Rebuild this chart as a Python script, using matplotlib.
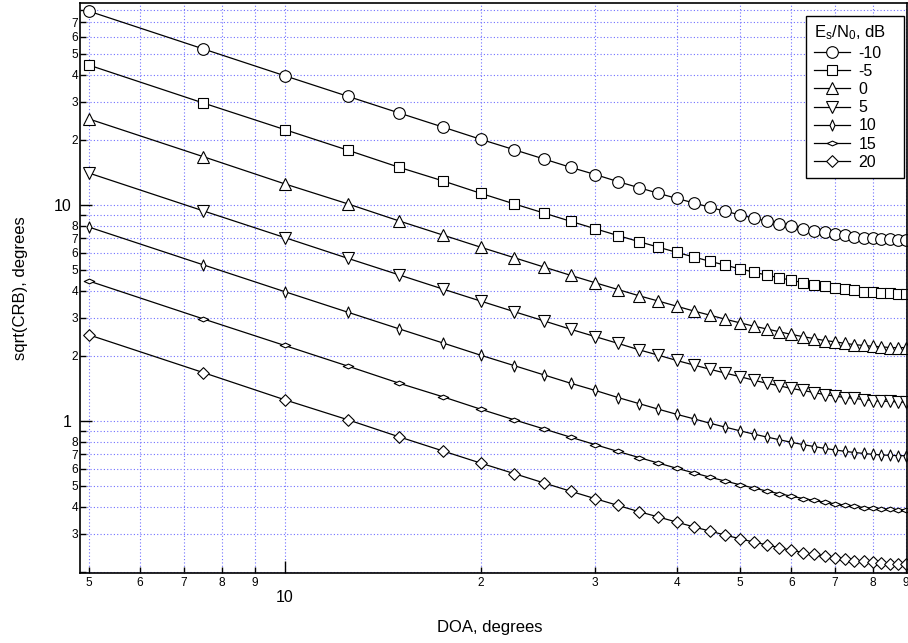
import matplotlib
matplotlib.use("Agg")
import matplotlib.pyplot as plt
from matplotlib.path import Path

plt.rcParams["font.family"] = ["Liberation Sans", "DejaVu Sans"]
plt.rcParams["mathtext.fontset"] = "custom"
plt.rcParams["mathtext.rm"] = "Liberation Sans"
plt.rcParams["mathtext.it"] = "Liberation Sans:italic"
plt.rcParams["mathtext.default"] = "regular"

# Direction of arrival, degrees
doa = [5, 7.5, 10, 12.5, 15, 17.5, 20, 22.5, 25, 27.5, 30, 32.5, 35, 37.5, 40,
       42.5, 45, 47.5, 50, 52.5, 55, 57.5, 60, 62.5, 65, 67.5, 70, 72.5, 75,
       77.5, 80, 82.5, 85, 87.5, 90]

# sqrt(CRB) in degrees, one curve per Es/N0
crb_m10 = [78.9, 52.7, 39.6, 31.8, 26.6, 22.9, 20.1, 18.0, 16.3, 14.9, 13.8,
           12.8, 12.0, 11.3, 10.7, 10.2, 9.73, 9.33, 8.98, 8.67, 8.40, 8.16,
           7.94, 7.75, 7.59, 7.44, 7.32, 7.21, 7.12, 7.05, 6.98, 6.94, 6.91,
           6.89, 6.88]
crb_m5 = [44.4, 29.6, 22.3, 17.9, 14.9, 12.9, 11.3, 10.1, 9.16, 8.38, 7.74,
          7.20, 6.75, 6.36, 6.02, 5.73, 5.47, 5.25, 5.05, 4.88, 4.72, 4.59,
          4.47, 4.36, 4.27, 4.19, 4.12, 4.06, 4.01, 3.96, 3.93, 3.90, 3.89,
          3.87, 3.87]
crb_0 = [25.0, 16.7, 12.5, 10.1, 8.41, 7.24, 6.36, 5.69, 5.15, 4.71, 4.35,
         4.05, 3.79, 3.58, 3.39, 3.22, 3.08, 2.95, 2.84, 2.74, 2.66, 2.58,
         2.51, 2.45, 2.40, 2.35, 2.32, 2.28, 2.25, 2.23, 2.21, 2.20, 2.18,
         2.18, 2.18]
crb_5 = [14.04, 9.37, 7.05, 5.65, 4.73, 4.07, 3.58, 3.20, 2.90, 2.65, 2.45,
         2.28, 2.13, 2.01, 1.90, 1.81, 1.73, 1.66, 1.60, 1.54, 1.49, 1.45,
         1.41, 1.38, 1.35, 1.32, 1.30, 1.28, 1.27, 1.25, 1.24, 1.23, 1.23,
         1.22, 1.22]
crb_10 = [7.89, 5.27, 3.96, 3.18, 2.66, 2.29, 2.01, 1.80, 1.63, 1.49, 1.38,
          1.28, 1.20, 1.13, 1.07, 1.02, 0.973, 0.933, 0.898, 0.867, 0.840,
          0.816, 0.794, 0.775, 0.759, 0.744, 0.732, 0.721, 0.712, 0.705,
          0.698, 0.694, 0.691, 0.689, 0.688]
crb_15 = [4.44, 2.96, 2.23, 1.79, 1.49, 1.29, 1.13, 1.01, 0.916, 0.838, 0.774,
          0.720, 0.675, 0.636, 0.602, 0.573, 0.547, 0.525, 0.505, 0.488,
          0.472, 0.459, 0.447, 0.436, 0.427, 0.419, 0.412, 0.406, 0.401,
          0.396, 0.393, 0.390, 0.389, 0.387, 0.387]
crb_20 = [2.50, 1.67, 1.25, 1.01, 0.841, 0.724, 0.636, 0.569, 0.515, 0.471,
          0.435, 0.405, 0.379, 0.358, 0.339, 0.322, 0.308, 0.295, 0.284,
          0.274, 0.266, 0.258, 0.251, 0.245, 0.240, 0.235, 0.232, 0.228,
          0.225, 0.223, 0.221, 0.220, 0.218, 0.218, 0.218]

snr_labels = ["-10", "-5", "0", "5", "10", "15", "20"]
curves = [crb_m10, crb_m5, crb_0, crb_5, crb_10, crb_15, crb_20]

# marker shapes
thin_diamond = Path([(0, 1), (0.45, 0), (0, -1), (-0.45, 0), (0, 1)],
                    [Path.MOVETO, Path.LINETO, Path.LINETO, Path.LINETO, Path.CLOSEPOLY])
flat_diamond = Path([(-1, 0), (0, 0.45), (1, 0), (0, -0.45), (-1, 0)],
                    [Path.MOVETO, Path.LINETO, Path.LINETO, Path.LINETO, Path.CLOSEPOLY])
diamond = Path([(-1, 0), (0, 1), (1, 0), (0, -1), (-1, 0)],
               [Path.MOVETO, Path.LINETO, Path.LINETO, Path.LINETO, Path.CLOSEPOLY])
styles = [("o", 8.4), ("s", 7.8), ("^", 8.4), ("v", 8.4),
          (thin_diamond, 8.0), (flat_diamond, 7.6), (diamond, 8.4)]

fig = plt.figure(figsize=(9.08, 6.43), dpi=100)
ax = fig.add_axes([80 / 908, 1 - 573 / 643, 827 / 908, 570 / 643])

for vals, lab, (mk, ms) in zip(curves, snr_labels, styles):
    ax.plot(doa, vals, color="black", lw=0.9, marker=mk, markersize=ms,
            markerfacecolor="white", markeredgecolor="black",
            markeredgewidth=0.8, label=lab)

ax.set_xscale("log")
ax.set_yscale("log")
ax.set_xlim(4.85, 90.3)
ax.set_ylim(0.197, 86)

# ticks and labels
ax.set_xticks([10])
ax.set_xticklabels(["10"])
xminor = [5, 6, 7, 8, 9, 20, 30, 40, 50, 60, 70, 80, 90]
ax.set_xticks(xminor, minor=True)
ax.set_xticklabels(["5", "6", "7", "8", "9", "2", "3", "4", "5", "6", "7", "8", "9"],
                   minor=True)

ax.set_yticks([1, 10])
ax.set_yticklabels(["1", "10"])
yminor = [0.2, 0.3, 0.4, 0.5, 0.6, 0.7, 0.8, 0.9,
          2, 3, 4, 5, 6, 7, 8, 9, 20, 30, 40, 50, 60, 70, 80]
ylabels_minor = ["", "3", "4", "5", "6", "7", "8", "",
                 "2", "3", "4", "5", "6", "7", "8", "", "2", "3", "4", "5", "6", "7", ""]
ax.set_yticks(yminor, minor=True)
ax.set_yticklabels(ylabels_minor, minor=True)

ax.tick_params(axis="both", which="major", direction="in", length=8.6, width=1.0,
               labelsize=11.5)
ax.tick_params(axis="both", which="minor", direction="in", length=4.5, width=1.0,
               labelsize=8.6)
ax.tick_params(axis="x", which="major", pad=12)
ax.tick_params(axis="x", which="minor", pad=3.2)
ax.tick_params(axis="y", which="major", pad=6)
ax.tick_params(axis="y", which="minor", pad=1.2)

ax.grid(True, which="both", color="#7070ff", linestyle=(0, (1, 2)), linewidth=0.8)
for s in ax.spines.values():
    s.set_linewidth(1.2)

ax.set_xlabel("DOA, degrees", fontsize=12)
ax.set_ylabel("sqrt(CRB), degrees", fontsize=12)
ax.xaxis.set_label_coords(0.496, -0.082)
ax.yaxis.set_label_coords(-0.063, 0.5)

leg = ax.legend(title="E$_s$/N$_0$, dB", loc="upper left",
                bbox_to_anchor=(0.8779, 0.5, 0.1185, 0.477), mode="expand",
                borderaxespad=0.0, alignment="left",
                fontsize=11.5, title_fontsize=12,
                frameon=True, fancybox=False, framealpha=1, edgecolor="black",
                handlelength=2.3, handletextpad=0.5, labelspacing=0.2,
                borderpad=0.48)
leg.get_frame().set_linewidth(1.0)

fig.savefig("out.png", dpi=100)
